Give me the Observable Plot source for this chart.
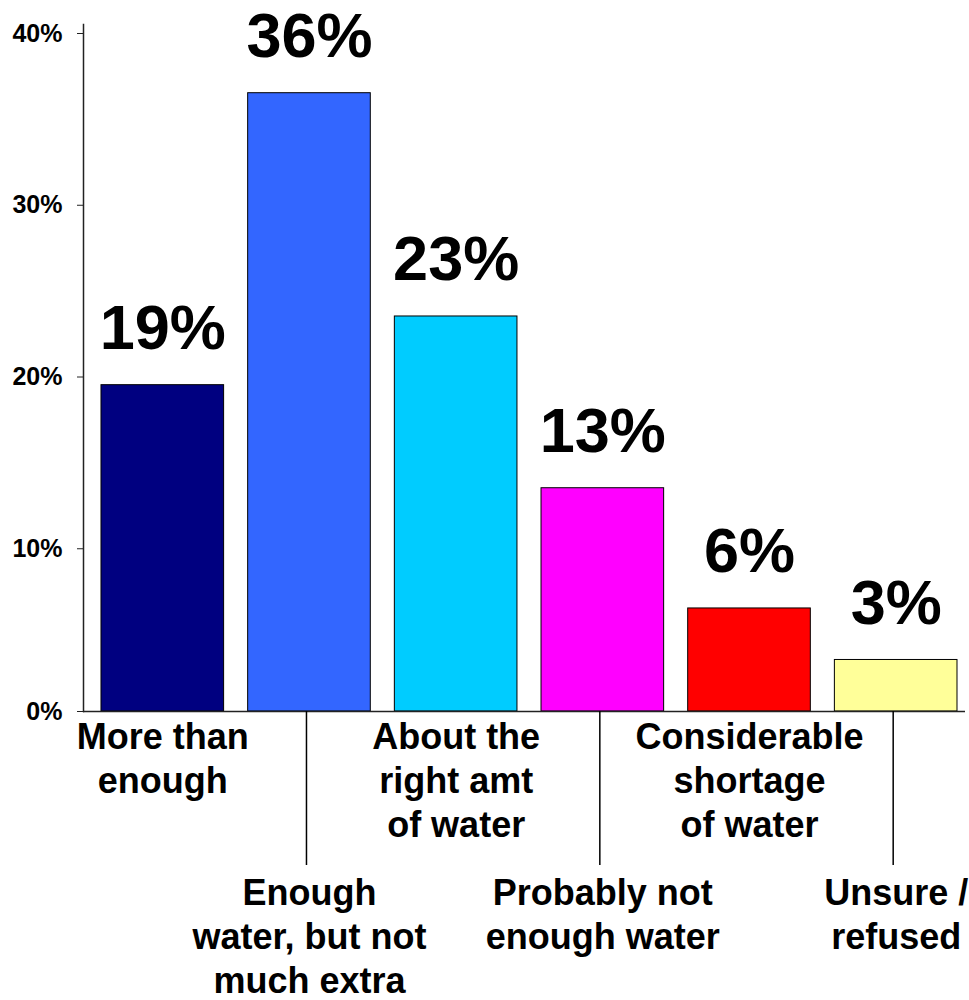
<!DOCTYPE html>
<html>
<head>
<meta charset="utf-8">
<script src="https://cdn.jsdelivr.net/npm/d3@7"></script>
<script src="https://cdn.jsdelivr.net/npm/@observablehq/plot@0.6"></script>
<style>
  html, body { margin: 0; padding: 0; background: #fff; }
  #chart svg { display: block; }
</style>
</head>
<body>
<div id="chart"></div>
<script>
// Survey responses: perceived water supply
const categories = [
  "More than\nenough",
  "Enough\nwater, but not\nmuch extra",
  "About the\nright amt\nof water",
  "Probably not\nenough water",
  "Considerable\nshortage\nof water",
  "Unsure /\nrefused"
];
const values = [19, 36, 23, 13, 6, 3];
const colors = ["#000080", "#3366FF", "#00CCFF", "#FF00FF", "#FF0000", "#FFFF99"];
const yTicks = [0, 10, 20, 30, 40];

const data = categories.map((c, i) => ({category: c, value: values[i], color: colors[i]}));
// Labels alternate between an upper row and a lower row joined by leader lines
const upperCats = categories.filter((_, i) => i % 2 === 0);
const lowerCats = categories.filter((_, i) => i % 2 === 1);

const font = "Arial, 'Liberation Sans', Helvetica, sans-serif";

const chart = Plot.plot({
  width: 969,
  height: 1000,
  marginLeft: 83,
  marginRight: 4,
  marginTop: 24,
  marginBottom: 289,
  style: {fontFamily: font, fontWeight: "bold", color: "#000", background: "#fff"},
  x: {domain: categories, paddingInner: 0.164, paddingOuter: 0.0886, align: 0.692, round: false, axis: null},
  y: {domain: [0, 40]},
  marks: [
    Plot.barY(data, {x: "category", y: "value", fill: "color", stroke: "#000", strokeWidth: 1}),
    Plot.ruleY([0], {stroke: "#222", strokeWidth: 1.5}),
    Plot.frame({anchor: "left", stroke: "#222", strokeWidth: 1.5}),
    Plot.axisY(yTicks.filter(t => t > 0), {tickSize: 6, tickPadding: 15, fontSize: 25, dy: 9,
      tickFormat: d => d + "%", stroke: "#222", label: null}),
    Plot.axisY([0], {tickSize: 6, tickPadding: 15, fontSize: 25, dy: 0,
      tickFormat: d => d + "%", stroke: "#222", label: null}),
    // leader lines for the lower-row labels
    Plot.ruleX(lowerCats, {x: d => d, y1: 0, y2: 0, insetBottom: -154, dx: -3, stroke: "#000", strokeWidth: 1.5}),
    Plot.text(upperCats, {x: d => d, y: 0, text: d => d, lineAnchor: "top", lineHeight: 1.21,
      fontSize: 36, fontWeight: "bold", dy: 7}),
    Plot.text(lowerCats, {x: d => d, y: 0, text: d => d, lineAnchor: "top", lineHeight: 1.21,
      fontSize: 36, fontWeight: "bold", dy: 163}),
    Plot.text(data, {x: "category", y: "value", text: d => d.value + "%", lineAnchor: "bottom",
      fontSize: 63, fontWeight: "bold", dy: -36})
  ]
});

document.getElementById("chart").appendChild(chart);
</script>
</body>
</html>
